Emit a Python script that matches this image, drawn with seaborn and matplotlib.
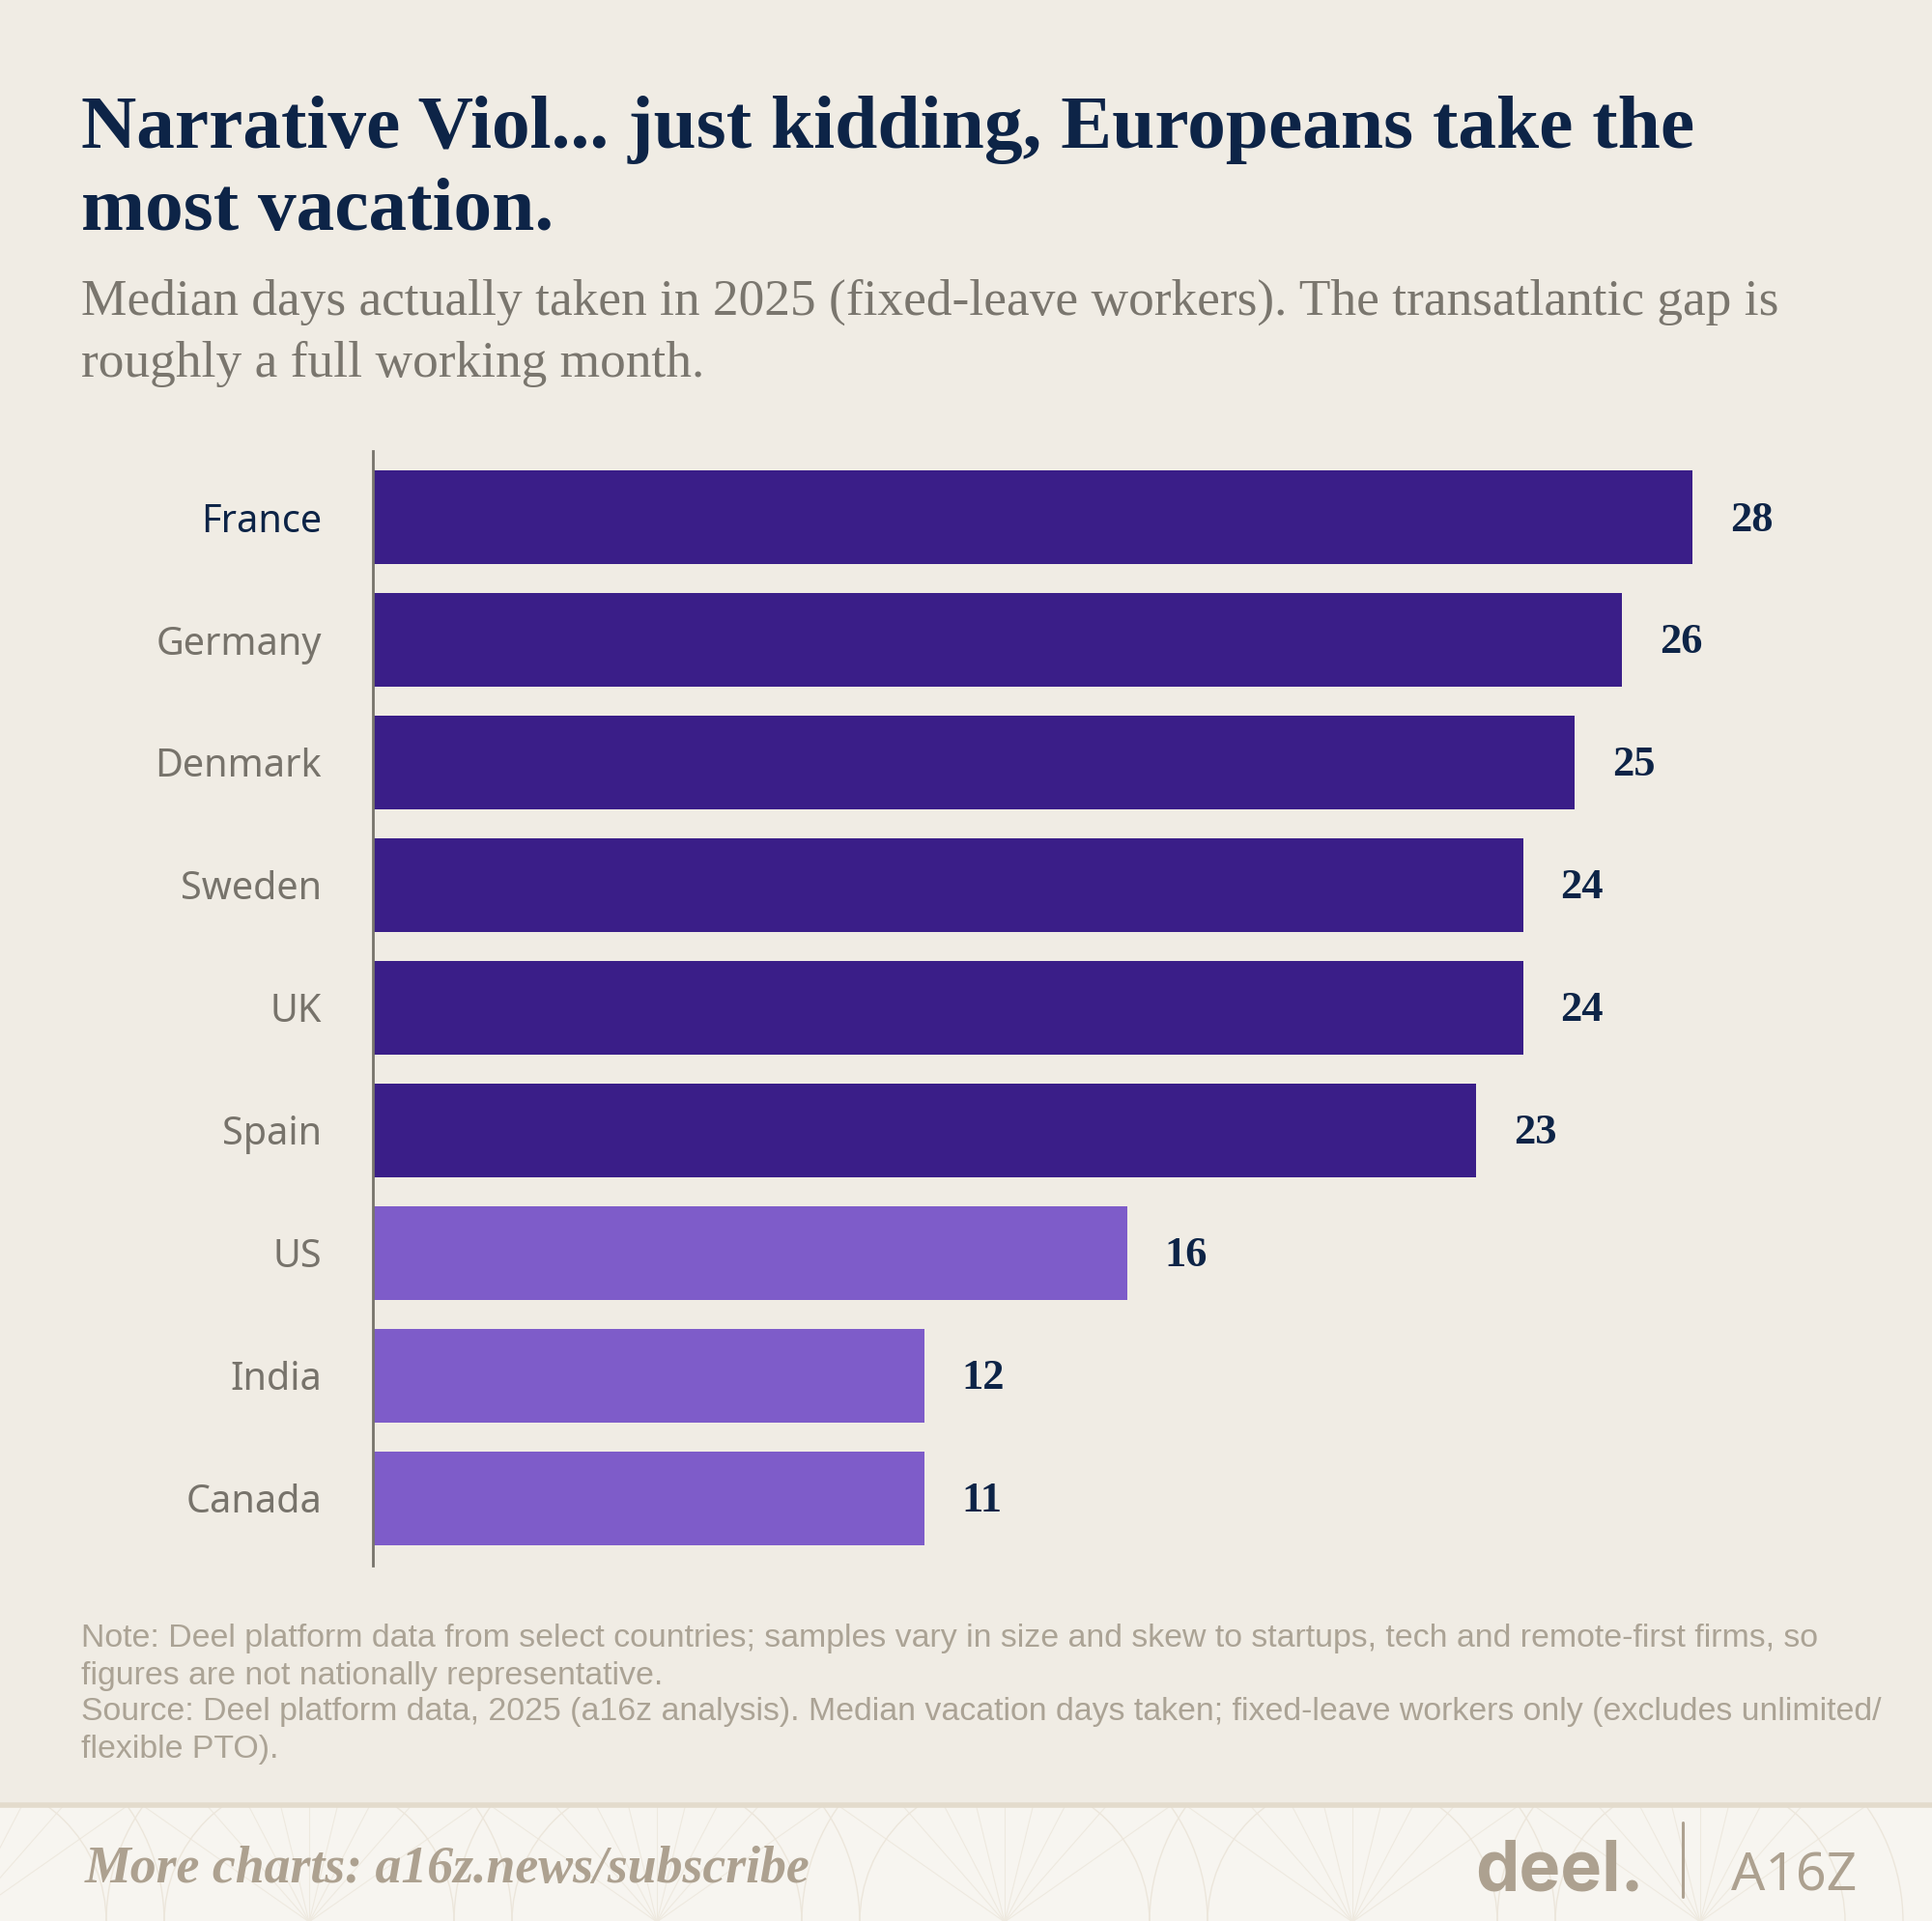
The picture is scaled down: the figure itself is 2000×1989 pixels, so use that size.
import matplotlib
matplotlib.use("Agg")
import matplotlib.pyplot as plt
import seaborn as sns
import pandas as pd
import numpy as np
from matplotlib.patches import Rectangle, Circle
from matplotlib.lines import Line2D

# ---------------- data ----------------
countries = ["France", "Germany", "Denmark", "Sweden", "UK", "Spain", "US", "India", "Canada"]
days = [28.0, 26.5, 25.5, 24.4, 24.4, 23.4, 16.0, 11.7, 11.7]
value_labels = ["28", "26", "25", "24", "24", "23", "16", "12", "11"]
region = ["Europe", "Europe", "Europe", "Europe", "Europe", "Europe", "Other", "Other", "Other"]

title_lines = ["Narrative Viol... just kidding, Europeans take the", "most vacation."]
subtitle_lines = ["Median days actually taken in 2025 (fixed-leave workers). The transatlantic gap is",
                  "roughly a full working month."]
note_lines = ["Note: Deel platform data from select countries; samples vary in size and skew to startups, tech and remote-first firms, so",
              "figures are not nationally representative.",
              "Source: Deel platform data, 2025 (a16z analysis). Median vacation days taken; fixed-leave workers only (excludes unlimited/",
              "flexible PTO)."]
footer_text = "More charts: a16z.news/subscribe"

# ---------------- style ----------------
BG = "#F0ECE4"
BAND = "#F7F5F0"
DARK = "#3A1E88"
LIGHT = "#7E5CC9"
NAVY = "#0D2447"
GREY = "#77736B"
SUBGREY = "#7A766E"
NOTEGREY = "#ABA395"
LOGO = "#ADA190"

sns.set_theme(style="white")
plt.rcParams["font.family"] = ["Noto Sans", "DejaVu Sans"]

W, H, DPI = 2000, 1989, 100
fig = plt.figure(figsize=(W / DPI, H / DPI), dpi=DPI, facecolor=BG)


def fx(px):
    return px / W


def fy(py):
    return 1 - py / H


# ---------------- chart ----------------
ax = fig.add_axes([fx(386), fy(1621), fx(1850) - fx(386), fy(467) - fy(1621)])
ax.set_facecolor(BG)
df = pd.DataFrame({"country": countries, "days": days, "region": region})
sns.barplot(data=df, y="country", x="days", hue="region", order=countries,
            palette={"Europe": DARK, "Other": LIGHT}, dodge=False, width=0.764,
            saturation=1, linewidth=0, legend=False, ax=ax)
ax.set_xlim(0, 30)
ax.set_ylim(8.55, -0.54)
for s in ["top", "right", "bottom"]:
    ax.spines[s].set_visible(False)
ax.spines["left"].set_color(GREY)
ax.spines["left"].set_linewidth(2.0)
ax.set_xlabel("")
ax.set_ylabel("")
ax.set_xticks([])
ax.tick_params(axis="y", length=0, pad=38, labelsize=28.5)
for lab in ax.get_yticklabels():
    lab.set_color(NAVY if lab.get_text() == "France" else GREY)
    lab.set_fontfamily(["Noto Sans", "DejaVu Sans"])

for i, (v, lab) in enumerate(zip(days, value_labels)):
    ax.annotate(lab, xy=(v, i + 0.11), xytext=(28, 0), textcoords="offset points",
                ha="left", va="baseline", fontsize=32, fontweight="bold",
                family=["Liberation Serif", "DejaVu Serif"], color=NAVY)

# ---------------- texts ----------------
fig.canvas.draw()
renderer = fig.canvas.get_renderer()


def fit(texts, target_px):
    bb = texts[0].get_window_extent(renderer=renderer)
    size = texts[0].get_fontsize() * target_px / bb.width
    for t in texts:
        t.set_fontsize(size)


t1 = [fig.text(fx(84), fy(y), s, ha="left", va="baseline", fontsize=50, fontweight="bold",
               family=["Liberation Serif", "DejaVu Serif"], color=NAVY)
      for s, y in zip(title_lines, [153, 238])]
fit(t1, 1671)

t2 = [fig.text(fx(84), fy(y), s, ha="left", va="baseline", fontsize=30,
               family=["Liberation Serif", "DejaVu Serif"], color=SUBGREY)
      for s, y in zip(subtitle_lines, [326, 390])]
fit(t2, 1759)

t3 = [fig.text(fx(84), fy(y), s, ha="left", va="baseline", fontsize=18,
               family=["Liberation Sans", "DejaVu Sans"], color=NOTEGREY)
      for s, y in zip(note_lines, [1705, 1744, 1781, 1820])]
fit(t3, 1799)

# ---------------- footer band ----------------
band = Rectangle((0, 0), 1, fy(1869), transform=fig.transFigure, facecolor=BAND,
                 edgecolor="none", zorder=0)
fig.patches.append(band)
for cx in np.arange(-40, 2100, 360):
    for r in [150, 210]:
        c = Circle((fx(cx), fy(1990)), r / W, transform=fig.transFigure, fill=False,
                   edgecolor="#ECE6DB", linewidth=1.0, zorder=0.5)
        c.set_clip_path(band)
        fig.patches.append(c)
    for ang in np.linspace(35, 145, 9):
        a = np.deg2rad(ang)
        x0, y0 = cx, 1990
        x1, y1 = cx + 240 * np.cos(a), 1990 - 240 * np.sin(a)
        ln = Line2D([fx(x0), fx(x1)], [fy(y0), fy(y1)], transform=fig.transFigure,
                    color="#EEE9DF", linewidth=0.8, zorder=0.5)
        ln.set_clip_path(band)
        fig.add_artist(ln)
fig.add_artist(Line2D([0, 1], [fy(1869), fy(1869)], transform=fig.transFigure,
                      color="#E3DBCC", linewidth=4, zorder=1))

t4 = fig.text(fx(88), fy(1949), footer_text, ha="left", va="baseline", fontsize=24,
              fontweight="bold", fontstyle="italic",
              family=["Liberation Serif", "DejaVu Serif"], color=LOGO)
fit([t4], 754)

t5 = fig.text(fx(1527), fy(1958), "deel.", ha="left", va="baseline", fontsize=40,
              fontweight="bold", family=["Inter", "DejaVu Sans"], color=LOGO)
fit([t5], 175)
fig.add_artist(Line2D([fx(1742), fx(1742)], [fy(1887), fy(1964)], transform=fig.transFigure,
                      color=LOGO, linewidth=2.2))
t6 = fig.text(fx(1792), fy(1958), "A16Z", ha="left", va="baseline", fontsize=40,
              fontweight="light", family=["Noto Sans", "DejaVu Sans"], color=LOGO)
fit([t6], 130)

fig.savefig("out.png", dpi=DPI, facecolor=BG)
